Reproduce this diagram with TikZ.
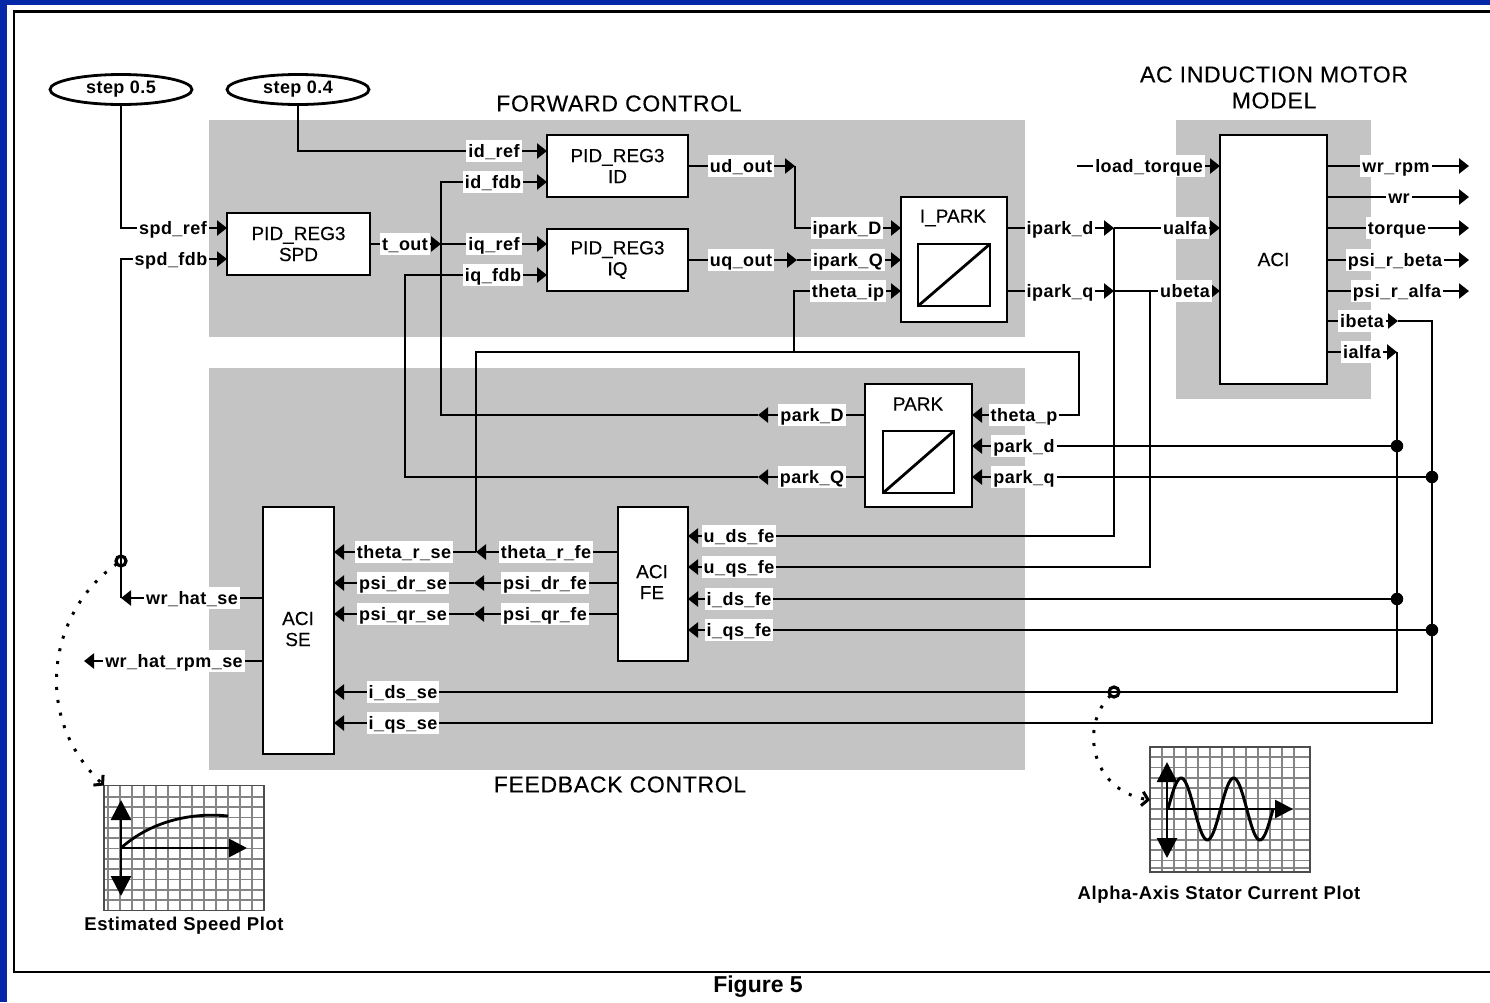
\documentclass[tikz,border=0pt]{standalone}
\usepackage{fontspec}
\setmainfont{Liberation Sans}
\newfontfamily\lblfont[LetterSpace=2.5]{Liberation Sans}
\newfontfamily\blockfont[FakeBold=0.25]{Liberation Sans}
\newfontfamily\titlefont[FakeBold=0.3,LetterSpace=3]{Liberation Sans}
\newfontfamily\capfont[LetterSpace=3.2]{Liberation Sans}
\usetikzlibrary{arrows.meta,shapes.geometric,calc}
\pgfdeclarelayer{bgl}
\pgfdeclarelayer{wires}
\pgfsetlayers{bgl,wires,main}
\definecolor{bluebar}{HTML}{0528A8}
\definecolor{panelgrey}{HTML}{C4C4C4}
\tikzset{
  x=1pt,y=-1pt,
  lbl/.style={fill=white,inner xsep=2pt,inner ysep=1pt,outer sep=0pt,text height=16pt,text depth=4pt,
    font=\lblfont\bfseries\fontsize{18}{20}\selectfont},
  blockbox/.style={draw=black,fill=white,line width=2.8pt,outer sep=0pt,inner sep=0pt,align=center,
    font=\blockfont\fontsize{19}{21}\selectfont},
  innerbox/.style={draw=black,fill=white,line width=2.8pt,outer sep=0pt,inner sep=0pt},
  source/.style={ellipse,draw=black,fill=white,line width=2.8pt,outer sep=0pt,inner sep=0pt,
    minimum width=142pt,minimum height=30pt,font=\lblfont\bfseries\fontsize{18}{20}\selectfont},
  title/.style={inner sep=0pt,align=center,font=\titlefont\fontsize{23}{26}\selectfont},
  caption/.style={inner sep=0pt,font=\capfont\bfseries\fontsize{18.5}{20}\selectfont},
  wire/.style={draw=black,line width=2.8pt,line cap=butt,line join=miter},
  arr/.style={wire,-{Triangle[length=10pt,width=15pt]}},
  junction/.style={circle,fill=black,minimum size=12.5pt,inner sep=0pt,outer sep=0pt},
  probe/.style={circle,draw=black,line width=3.2pt,minimum size=10pt,inner sep=0pt,outer sep=0pt},
  dots/.style={draw=black,line width=3pt,dash pattern=on 3pt off 10pt},
  plotbox/.style={draw=black!70,line width=1.8pt,outer sep=0pt,inner sep=0pt,minimum width=160pt,minimum height=125pt},
  gridline/.style={draw=black!48,line width=1.2pt},
  axis/.style={draw=black,line width=2.8pt,{Triangle[length=20pt,width=20pt]}-{Triangle[length=20pt,width=20pt]}},
  axisx/.style={draw=black,line width=2.8pt,-{Triangle[length=18pt,width=18pt]}},
}
\newcommand{\lab}[4]{\node[lbl] (#1) at (#2,#3) {#4};}
\begin{document}
\begin{tikzpicture}
\useasboundingbox (0,0) rectangle (1490,1002);
\begin{pgfonlayer}{bgl}
  \fill[white] (0,0) rectangle (1490,1002);
  \fill[bluebar] (0,0) rectangle (1490,5);
  \fill[bluebar] (0,0) rectangle (7,1002);
  \draw[black,line width=2.4pt] (1490,11.5) -- (14,11.5) -- (14,972) -- (1490,972);
  \fill[panelgrey] (209,120) rectangle (1025,337);
  \fill[panelgrey] (209,368) rectangle (1025,770);
  \fill[panelgrey] (1176,120) rectangle (1371,399);
\end{pgfonlayer}

% titles
\node[title] (tforward) at (619,103.5) {FORWARD CONTROL};
\node[title] (tfeedback) at (620,784.5) {FEEDBACK CONTROL};
\node[title] (tmotor) at (1274,87.5) {AC INDUCTION MOTOR\\MODEL};
\node[title,font=\bfseries\fontsize{23}{24}\selectfont] (tfig) at (758,987) {Figure 5};
\node[caption] (capL) at (184,925.5) {Estimated Speed Plot};
\node[caption] (capR) at (1219,894.5) {Alpha-Axis Stator Current Plot};

% sources
\node[source] (step5) at (121,89.5) {step 0.5};
\node[source] (step4) at (298,89.5) {step 0.4};

% blocks
\node[blockbox,minimum width=143pt,minimum height=62pt] (spd) at (298.5,244) {PID\_REG3\\SPD};
\node[blockbox,minimum width=141pt,minimum height=62pt] (idb) at (617.5,166) {PID\_REG3\\ID};
\node[blockbox,minimum width=141pt,minimum height=62pt] (iqb) at (617.5,260) {PID\_REG3\\IQ};
\node[blockbox,minimum width=106pt,minimum height=125pt] (ipark) at (954,259.5) {};
\node[inner sep=0pt,font=\blockfont\fontsize{19}{21}\selectfont] (iparkt) at (953,218) {I\_PARK};
\node[innerbox,minimum width=72pt,minimum height=62pt] (iparki) at (954,275) {};
\node[blockbox,minimum width=107pt,minimum height=123pt] (park) at (918.5,445.5) {};
\node[inner sep=0pt,font=\blockfont\fontsize{19}{21}\selectfont] (parkt) at (918,404) {PARK};
\node[innerbox,minimum width=71pt,minimum height=62pt] (parki) at (918.5,462) {};
\node[blockbox,minimum width=107pt,minimum height=249pt] (aci) at (1273.5,259.5) {ACI};
\node[blockbox,minimum width=70pt,minimum height=154pt] (fe) at (653,584) {};
\node[inner sep=0pt,align=center,font=\blockfont\fontsize{19}{21}\selectfont] (fet) at (652,582) {ACI\\FE};
\node[blockbox,minimum width=71pt,minimum height=247pt] (se) at (298.5,630.5) {};
\node[inner sep=0pt,align=center,font=\blockfont\fontsize{19}{21}\selectfont] (set) at (298,629) {ACI\\SE};

% labels
\lab{spdref}{173}{228}{spd\_ref}
\lab{spdfdb}{171}{259}{spd\_fdb}
\lab{tout}{405}{244}{t\_out}
\lab{idref}{494}{151}{id\_ref}
\lab{idfdb}{493}{182}{id\_fdb}
\lab{iqref}{494}{244}{iq\_ref}
\lab{iqfdb}{493}{275}{iq\_fdb}
\lab{udout}{741}{166}{ud\_out}
\lab{uqout}{741}{260}{uq\_out}
\lab{iparkD}{847}{228}{ipark\_D}
\lab{iparkQ}{848}{260}{ipark\_Q}
\lab{thetaip}{848}{291}{theta\_ip}
\lab{iparkd}{1060}{228}{ipark\_d}
\lab{iparkq}{1060}{291}{ipark\_q}
\lab{loadtorque}{1149}{166}{load\_torque}
\lab{ualfa}{1185}{228}{ualfa}
\lab{ubeta}{1185}{291}{ubeta}
\lab{wrrpm}{1396}{166}{wr\_rpm}
\lab{wr}{1399}{197}{wr}
\lab{torque}{1397}{228}{torque}
\lab{psirbeta}{1395}{260}{psi\_r\_beta}
\lab{psiralfa}{1397}{291}{psi\_r\_alfa}
\lab{ibeta}{1362}{321}{ibeta}
\lab{ialfa}{1362}{352}{ialfa}
\lab{parkD}{812}{415}{park\_D}
\lab{parkQ}{812}{477}{park\_Q}
\lab{thetap}{1024}{415}{theta\_p}
\lab{parkd}{1024}{446}{park\_d}
\lab{parkq}{1024}{477}{park\_q}
\lab{thetarse}{404}{552}{theta\_r\_se}
\lab{psidrse}{403}{583}{psi\_dr\_se}
\lab{psiqrse}{403}{614}{psi\_qr\_se}
\lab{thetarfe}{546}{552}{theta\_r\_fe}
\lab{psidrfe}{545}{583}{psi\_dr\_fe}
\lab{psiqrfe}{545}{614}{psi\_qr\_fe}
\lab{udsfe}{739}{536}{u\_ds\_fe}
\lab{uqsfe}{739}{567}{u\_qs\_fe}
\lab{idsfe}{739}{599}{i\_ds\_fe}
\lab{iqsfe}{739}{630}{i\_qs\_fe}
\lab{wrhatse}{192}{598}{wr\_hat\_se}
\lab{wrhatrpm}{174}{661}{wr\_hat\_rpm\_se}
\lab{idsse}{403}{692}{i\_ds\_se}
\lab{iqsse}{403}{723}{i\_qs\_se}

% junctions and free coordinates
\node[junction] (jC) at (1397,446) {};
\node[junction] (jD) at (1397,599) {};
\node[junction] (jA) at (1432,477) {};
\node[junction] (jB) at (1432,630) {};
\node[probe] (pL) at (121,561) {};
\node[probe] (pR) at (1114,692) {};
\coordinate (jwr) at (121,598);
\coordinate (jt) at (441,244);
\coordinate (tipPD) at (758,415);
\coordinate (tipPQ) at (758,477);
\coordinate (c405) at (405,275);
\coordinate (jud) at (795,166);
\coordinate (juq) at (797,260);
\coordinate (jtheta) at (476,552);
\coordinate (cTL) at (476,352);
\coordinate (cTR) at (1079,352);
\coordinate (cTM) at (794,352);
\coordinate (jpd) at (474,583);
\coordinate (jpq) at (474,614);
\coordinate (jia) at (1114,228);
\coordinate (jib) at (1114,291);
\coordinate (c1150) at (1150,291);
\coordinate (tipbeta) at (1398,321);
\coordinate (tipalfa) at (1397,352);
\coordinate (loadstart) at (1077,166);
\coordinate (outrpm) at (1469,166);
\coordinate (outwr) at (1469,197);
\coordinate (outtq) at (1469,228);
\coordinate (outpb) at (1469,260);
\coordinate (outpa) at (1469,291);
\coordinate (outse) at (84,661);

\begin{pgfonlayer}{wires}
  % speed loop
  \draw[wire] (step5.south) |- (spdref);
  \draw[arr] (spdref) -- (spd.west |- spdref);
  \draw[wire] (jwr) -- (pL.center) -- (pL.center |- spdfdb) -- (spdfdb);
  \draw[arr] (spdfdb) -- (spd.west |- spdfdb);
  \draw[arr] (se.west |- wrhatse) -- (jwr);
  \draw[arr] (se.west |- wrhatrpm) -- (outse);
  % id
  \draw[wire] (step4.south) |- (idref);
  \draw[arr] (idref) -- (idb.west |- idref);
  \draw[arr] (idfdb) -- (idb.west |- idfdb);
  \draw[arr] (spd.east |- tout) -- (jt);
  \draw[wire] (jt) -- (iqref);
  \draw[arr] (iqref) -- (iqb.west |- iqref);
  \draw[arr] (iqfdb) -- (iqb.west |- iqfdb);
  \draw[arr] (park.west |- parkD) -- (tipPD);
  \draw[wire] (tipPD) -- (jt |- tipPD) -- (jt |- idfdb) -- (idfdb);
  \draw[arr] (park.west |- parkQ) -- (tipPQ);
  \draw[wire] (tipPQ) -| (c405) -- (iqfdb);
  % PID outputs
  \draw[arr] (idb.east |- udout) -- (jud);
  \draw[wire] (jud) |- (iparkD);
  \draw[arr] (iparkD) -- (ipark.west |- iparkD);
  \draw[arr] (iqb.east |- uqout) -- (juq);
  \draw[arr] (juq) -- (ipark.west |- iparkQ);
  \draw[arr] (thetaip) -- (ipark.west |- thetaip);
  \draw[wire] (thetaip) -| (cTM);
  % theta bus
  \draw[wire] (jtheta) -- (cTL) -- (cTR) |- (thetap);
  \draw[arr] (thetap) -- (park.east |- thetap);
  \draw[arr] (fe.west |- thetarfe) -- (jtheta);
  \draw[arr] (jtheta) -- (se.east |- thetarse);
  \draw[arr] (fe.west |- psidrfe) -- (jpd);
  \draw[arr] (jpd) -- (se.east |- psidrse);
  \draw[arr] (fe.west |- psiqrfe) -- (jpq);
  \draw[arr] (jpq) -- (se.east |- psiqrse);
  % inverse park to motor
  \draw[arr] (ipark.east |- iparkd) -- (jia);
  \draw[wire] (jia) -- (ualfa);
  \draw[arr] (ualfa) -- (aci.west |- ualfa);
  \draw[arr] (ipark.east |- iparkq) -- (jib);
  \draw[wire] (jib) -- (ubeta);
  \draw[arr] (ubeta) -- (aci.west |- ubeta);
  \draw[wire] (jia) |- (udsfe);
  \draw[arr] (udsfe) -- (fe.east |- udsfe);
  \draw[wire] (c1150) |- (uqsfe);
  \draw[arr] (uqsfe) -- (fe.east |- uqsfe);
  % motor
  \draw[arr] (loadstart) -- (aci.west |- loadtorque);
  \draw[arr] (aci.east |- wrrpm) -- (outrpm);
  \draw[arr] (aci.east |- wr) -- (outwr);
  \draw[arr] (aci.east |- torque) -- (outtq);
  \draw[arr] (aci.east |- psirbeta) -- (outpb);
  \draw[arr] (aci.east |- psiralfa) -- (outpa);
  \draw[arr] (aci.east |- ibeta) -- (tipbeta);
  \draw[arr] (aci.east |- ialfa) -- (tipalfa);
  % feedback currents
  \draw[wire] (tipbeta) -| (jB.center) |- (iqsse);
  \draw[arr] (iqsse) -- (se.east |- iqsse);
  \draw[wire] (tipalfa) -- (jD.center) |- (idsse);
  \draw[arr] (idsse) -- (se.east |- idsse);
  \draw[wire] (jC) -- (parkd);
  \draw[arr] (parkd) -- (park.east |- parkd);
  \draw[wire] (jA) -- (parkq);
  \draw[arr] (parkq) -- (park.east |- parkq);
  \draw[wire] (jD) -- (idsfe);
  \draw[arr] (idsfe) -- (fe.east |- idsfe);
  \draw[wire] (jB) -- (iqsfe);
  \draw[arr] (iqsfe) -- (fe.east |- iqsfe);
\end{pgfonlayer}

% diagonals in transform boxes
\draw[black,line width=2.8pt] (iparki.south west) -- (iparki.north east);
\draw[black,line width=2.8pt] (parki.south west) -- (parki.north east);

% left plot
\fill[white] (104,786) rectangle (264,910);
\foreach \gx in {108,120,132,144,156,168,180,192,204,216,228,240,252}
  \draw[gridline] (\gx,786) -- (\gx,910);
\foreach \gy in {797,807,817.5,828,838,848.5,859,869,879.5,890,900}
  \draw[gridline] (104,\gy) -- (264,\gy);
\node[plotbox] (plotL) at (184,848) {};
\draw[axis] (121,800) -- (121,896);
\draw[axisx] (121,848) -- (247,848);
\draw[black,line width=2.8pt] (121,848) .. controls (150,822) and (190,812) .. (228,816);

% right plot
\fill[white] (1150,747) rectangle (1310,872);
\foreach \gx in {1162,1174,1186,1198,1210,1222,1234,1246,1258,1270,1282,1294}
  \draw[gridline] (\gx,747) -- (\gx,872);
\foreach \gy in {757,767.5,778,788,798.5,809,819,829.5,840,850,860.5,868}
  \draw[gridline] (1150,\gy) -- (1310,\gy);
\node[plotbox] (plotR) at (1230,809.5) {};
\draw[axis] (1167,762) -- (1167,858);
\draw[axisx] (1167,809) -- (1293,809);
\draw[black,line width=3pt] plot[smooth,domain=0:720,samples=61] ({1168+\x/360*52.5},{809-31*sin(\x)});

% probe leaders
\coordinate (tgtR) at (1150,800);
\draw[dots,-{Straight Barb[length=6pt,width=14pt]}] (pL) .. controls (50,610) and (30,715) .. (plotL.north west);
\draw[dots,-{Straight Barb[length=6pt,width=14pt]}] (pR) .. controls (1080,725) and (1090,790) .. (tgtR);
\end{tikzpicture}
\end{document}
